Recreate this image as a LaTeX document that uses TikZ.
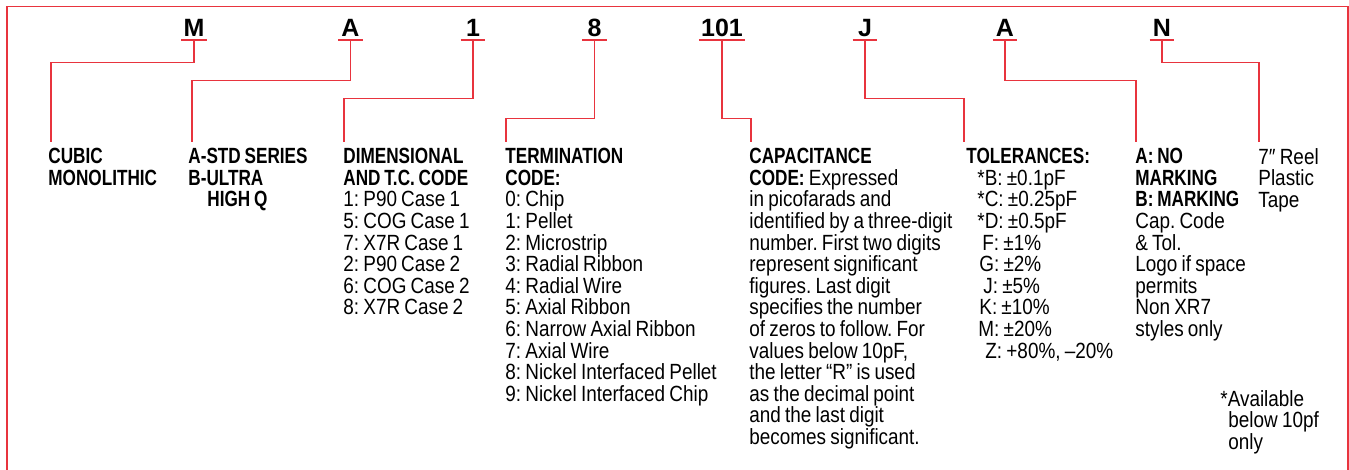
\documentclass[tikz,border=0pt]{standalone}
\usepackage{fontspec}
\setmainfont{Liberation Sans}[FakeStretch=0.86,WordSpace=0.8,BoldFeatures={FakeStretch=0.78}]
\newfontfamily\codefont{Liberation Sans}
\usepackage{tikz}
\usetikzlibrary{calc}
\definecolor{leadred}{RGB}{232,52,62}
\frenchspacing

\begin{document}
\begin{tikzpicture}[
    x=0.5pt, y=-0.5pt,
    frame/.style={draw=leadred, line width=0.65pt},
    lead/.style={draw=leadred, line width=0.65pt},
    codeletter/.style={font=\codefont\fontsize{12.5pt}{14pt}\selectfont\bfseries, minimum width=12pt, inner xsep=1pt, inner ysep=1.25pt, text depth=0pt, anchor=base},
    column/.style={anchor=north west, inner sep=0pt, align=left, font=\fontsize{11pt}{10.8pt}\selectfont},
    heading/.style={column, font=\fontsize{11pt}{10.8pt}\selectfont\bfseries},
]
    \useasboundingbox (0,0) rectangle (1349,470);

    % Open frame (no bottom edge)
    \draw[frame] (7,470) -- (7,6.5) -- (1348,6.5) -- (1348,470);

    % Part number letters
    \node[codeletter] (cM)   at (194,37)   {M};
    \node[codeletter] (cA)   at (350.5,37) {A};
    \node[codeletter] (c1)   at (473,37)   {1};
    \node[codeletter] (c8)   at (594.5,37) {8};
    \node[codeletter] (c101) at (722,37)   {101};
    \node[codeletter] (cJ)   at (865,37)   {J};
    \node[codeletter] (cA2)  at (1005,37)  {A};
    \node[codeletter] (cN)   at (1162,37)  {N};

    % Description columns
    \node[heading] (cubic) at (48,148) {CUBIC\\MONOLITHIC};
    \node[heading] (series) at (188,148) {A-STD SERIES\\B-ULTRA\\\hspace*{9.5pt}HIGH Q};
    \node[column] (dimen) at (343,148) {\textbf{DIMENSIONAL}\\\textbf{AND T.C. CODE}\\1: P90 Case 1\\5: COG Case 1\\7: X7R Case 1\\2: P90 Case 2\\6: COG Case 2\\8: X7R Case 2};
    \node[column] (term) at (505,148) {\textbf{TERMINATION}\\\textbf{CODE:}\\0: Chip\\1: Pellet\\2: Microstrip\\3: Radial Ribbon\\4: Radial Wire\\5: Axial Ribbon\\6: Narrow Axial Ribbon\\7: Axial Wire\\8: Nickel Interfaced Pellet\\9: Nickel Interfaced Chip};
    \node[column] (capac) at (749,148) {\textbf{CAPACITANCE}\\\textbf{CODE:} Expressed\\in picofarads and\\identified by a three-digit\\number. First two digits\\represent significant\\figures. Last digit\\specifies the number\\of zeros to follow. For\\values below 10pF,\\the letter “R” is used\\as the decimal point\\and the last digit\\becomes significant.};
    \node[column] (toler) at (966,148) {\textbf{TOLERANCES:}\\\hspace*{5.5pt}*B: ±0.1pF\\\hspace*{5.5pt}*C: ±0.25pF\\\hspace*{5.5pt}*D: ±0.5pF\\\hspace*{8pt}F: ±1\%\\\hspace*{6.5pt}G: ±2\%\\\hspace*{8.5pt}J: ±5\%\\\hspace*{6.5pt}K: ±10\%\\\hspace*{6pt}M: ±20\%\\\hspace*{9.5pt}Z: +80\%, –20\%};
    \node[column] (marking) at (1135,148) {\textbf{A: NO}\\\textbf{MARKING}\\\textbf{B: MARKING}\\Cap. Code\\\& Tol.\\Logo if space\\permits\\Non XR7\\styles only};
    \node[column] (reel) at (1258,148) {7″ Reel\\Plastic\\Tape};
    \node[column] (note) at (1220,390) {*Available\\\hspace*{4pt}below 10pf\\\hspace*{4pt}only};

    % Leader lines from letters to columns
    \draw[lead] (cM.south west) -- (cM.south east) (cM.south) -- ++(0,22.5) -| ($(cubic.north west)+(3,-6)$);
    \draw[lead] (cA.south west) -- (cA.south east) (cA.south) -- ++(0,40.5) -| ($(series.north west)+(4,-6)$);
    \draw[lead] (c1.south west) -- (c1.south east) (c1.south) -- ++(0,58.5) -| ($(dimen.north west)+(1,-6)$);
    \draw[lead] (c8.south west) -- (c8.south east) (c8.south) -- ++(0,78.5) -| ($(term.north west)+(1,-6)$);
    \draw[lead] (c101.south west) -- (c101.south east) (c101.south) -- ++(0,78.5) -| ($(capac.north west)+(2,-6)$);
    \draw[lead] (cJ.south west) -- (cJ.south east) (cJ.south) -- ++(0,58.5) -| ($(toler.north west)+(-2,-6)$);
    \draw[lead] (cA2.south west) -- (cA2.south east) (cA2.south) -- ++(0,40.5) -| ($(marking.north west)+(1,-6)$);
    \draw[lead] (cN.south west) -- (cN.south east) (cN.south) -- ++(0,22.5) -| ($(reel.north west)+(1,-6)$);
\end{tikzpicture}
\end{document}
